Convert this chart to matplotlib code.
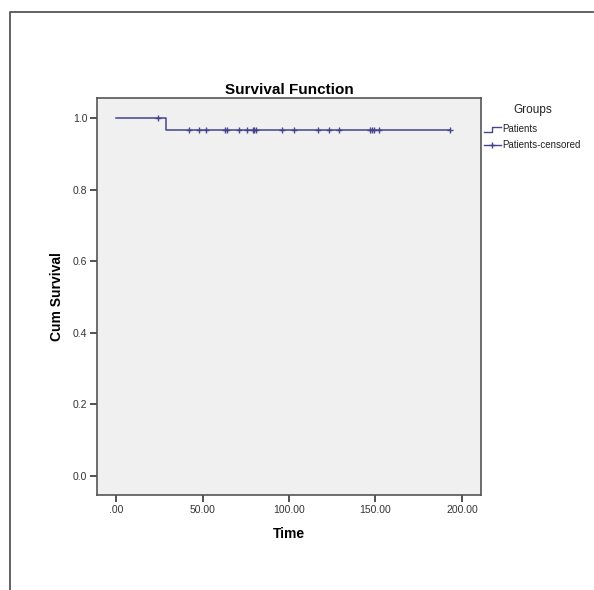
import numpy as np
import matplotlib.pyplot as plt
from matplotlib.lines import Line2D
from matplotlib.ticker import FuncFormatter

plt.rcParams['font.family'] = ['Liberation Sans', 'DejaVu Sans']

# Kaplan-Meier step data
step_times = [0, 29, 193]
step_surv = [1.0, 0.9667, 0.9667]

# censored observations
censor_times = [24, 42, 48, 52, 63, 64, 71, 76, 79, 80, 81, 96, 103,
                117, 123, 129, 147, 148, 149, 152, 193]

x_ticks = [0, 50, 100, 150, 200]
y_ticks = [0.0, 0.2, 0.4, 0.6, 0.8, 1.0]

line_col = '#45458f'
W, H = 594, 590

fig = plt.figure(figsize=(W / 100, H / 100), dpi=100)
ax = fig.add_axes([97 / W, 1 - 495 / H, (481 - 97) / W, (495 - 98) / H])
ax.set_facecolor('#f0f0f0')

ax.step(step_times, step_surv, where='post', color=line_col, lw=1.1)

def surv_at(t):
    s = step_surv[0]
    for st, sv in zip(step_times, step_surv):
        if t >= st:
            s = sv
    return s

cy = [surv_at(t) for t in censor_times]
ax.plot(censor_times, cy, ls='none', marker='+', ms=5, mew=1.0, color=line_col)

ax.set_xlim(-11, 211)
ax.set_ylim(-0.053, 1.056)
ax.set_xticks(x_ticks)
ax.set_yticks(y_ticks)
ax.xaxis.set_major_formatter(FuncFormatter(lambda v, p: '.00' if v == 0 else f'{v:.2f}'))
ax.yaxis.set_major_formatter(FuncFormatter(lambda v, p: f'{v:.1f}'))
ax.tick_params(direction='out', length=5, width=1.3, color='#444444',
               labelsize=7.5, labelcolor='#333333', pad=2)
for s in ax.spines.values():
    s.set_color('#555555')
    s.set_linewidth(1.2)

ax.set_title('Survival Function', fontsize=11, fontweight='bold', pad=3)
ax.set_xlabel('Time', fontsize=10, fontweight='bold', labelpad=9)
ax.set_ylabel('Cum Survival', fontsize=10, fontweight='bold', labelpad=6)

# legend drawn by hand (SPSS style)
def px(x, y):
    return x / W, 1 - y / H

fig.text(*px(533, 110), 'Groups', fontsize=8.5, ha='center', va='center', color='#222222')
xs = [484, 492, 492, 501]
ys = [132, 132, 127, 127]
fx, fy = zip(*[px(a, b) for a, b in zip(xs, ys)])
fig.add_artist(Line2D(fx, fy, color=line_col, lw=1.0, transform=fig.transFigure))
fig.text(*px(502, 129), 'Patients', fontsize=7, ha='left', va='center', color='#222222')
fx, fy = zip(*[px(484, 145), px(501, 145)])
fig.add_artist(Line2D(fx, fy, color=line_col, lw=1.0, transform=fig.transFigure))
fig.add_artist(Line2D([px(492, 0)[0]], [px(0, 145)[1]], marker='+', ms=5, mew=1.0,
                      color=line_col, transform=fig.transFigure))
fig.text(*px(502, 145), 'Patients-censored', fontsize=7, ha='left', va='center', color='#222222')

# outer frame
fx, fy = zip(*[px(9.5, 590), px(9.5, 12), px(593, 12)])
fig.add_artist(Line2D(fx, fy, color='#555555', lw=1.3, transform=fig.transFigure))

fig.savefig('out.png', dpi=100)
